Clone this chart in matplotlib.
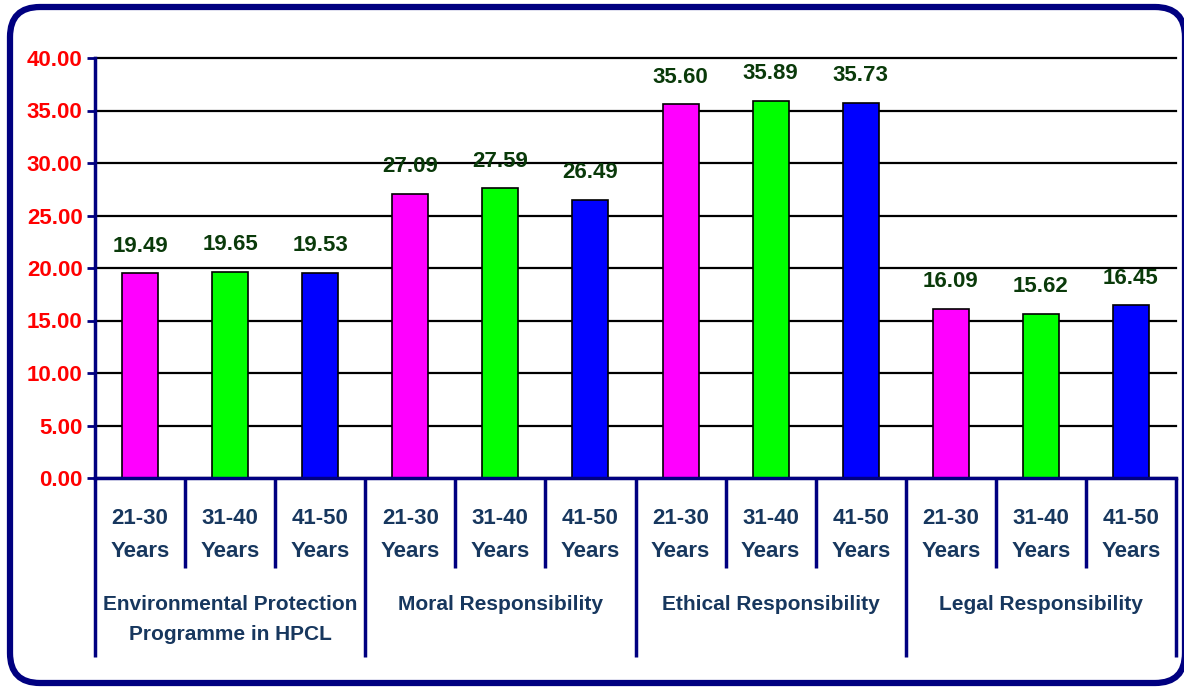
import matplotlib
matplotlib.use('Agg')
import matplotlib.pyplot as plt
import matplotlib.transforms as mtransforms
from matplotlib.patches import FancyBboxPatch
import numpy as np

plt.rcParams['font.family'] = ['Liberation Sans', 'DejaVu Sans']

GROUPS = ['Environmental Protection\nProgramme in HPCL', 'Moral Responsibility',
          'Ethical Responsibility', 'Legal Responsibility']
AGES = ['21-30\nYears', '31-40\nYears', '41-50\nYears']
VALUES = [
    [19.49, 19.65, 19.53],
    [27.09, 27.59, 26.49],
    [35.60, 35.89, 35.73],
    [16.09, 15.62, 16.45],
]
COLORS = ['#ff00ff', '#00ff00', '#0000ff']
Y_TICKS = [0, 5, 10, 15, 20, 25, 30, 35, 40]

NAVY = '#000080'
LABEL_BLUE = '#17375e'
VALUE_GREEN = '#0a3a0a'
FS = 16
DPI = 100

fig = plt.figure(figsize=(11.84, 6.88), dpi=DPI)
fig.patch.set_facecolor('white')

# rounded outer frame in pixel units (right side runs off the canvas)
frame = FancyBboxPatch((10, 5), 1175, 676,
                       boxstyle='round,pad=0,rounding_size=30',
                       transform=mtransforms.IdentityTransform(),
                       facecolor='none', edgecolor=NAVY, lw=4.5, zorder=-10)
fig.patches.append(frame)

ax = fig.add_axes([95 / 1184, 1 - 478 / 688, 1081 / 1184, 420 / 688])
ax.set_facecolor('none')

n_groups = len(GROUPS)
n_ages = len(AGES)
xs = np.arange(n_groups * n_ages)
heights = [v for grp in VALUES for v in grp]
colors = [COLORS[i % n_ages] for i in range(len(heights))]

ax.bar(xs, heights, width=0.4, color=colors, edgecolor='black', lw=1.2, zorder=3)
for x, h in zip(xs, heights):
    ax.annotate(f'{h:.2f}', (x, h), xytext=(0, 12), textcoords='offset points',
                ha='center', va='bottom', fontsize=FS, fontweight='bold',
                color=VALUE_GREEN, zorder=4)

ax.set_xlim(-0.5, len(xs) - 0.5)
ax.set_ylim(0, 40)
ax.set_yticks(Y_TICKS)
ax.set_yticklabels([f'{t:.2f}' for t in Y_TICKS], color='red',
                   fontsize=FS, fontweight='bold')
ax.tick_params(axis='y', direction='out', length=6, width=2, color=NAVY, pad=3)
ax.set_xticks([])
ax.yaxis.grid(True, color='black', lw=1.6, zorder=1)
for gl in ax.get_ygridlines():
    gl.set_clip_on(False)
ax.set_axisbelow(True)

for side in ['top', 'right']:
    ax.spines[side].set_visible(False)
for side in ['left', 'bottom']:
    ax.spines[side].set_color(NAVY)
    ax.spines[side].set_linewidth(2.5)
    ax.spines[side].set_zorder(5)

# category axis: age labels and group labels below the bars
trans = mtransforms.blended_transform_factory(ax.transData, ax.transAxes)
short_y = -90 / 420
long_y = -179 / 420
for i in range(len(xs) + 1):
    edge = i - 0.5
    y_end = long_y if i % n_ages == 0 else short_y
    ax.plot([edge, edge], [0, y_end], transform=trans, color=NAVY, lw=2.5,
            clip_on=False, solid_capstyle='butt')

for i, x in enumerate(xs):
    ax.text(x, -57 / 420, AGES[i % n_ages], transform=trans, ha='center',
            va='center', fontsize=FS, fontweight='bold', color=LABEL_BLUE,
            linespacing=1.7)

for g, name in enumerate(GROUPS):
    gx = g * n_ages + (n_ages - 1) / 2
    ax.text(gx, -117 / 420, name, transform=trans, ha='center', va='top',
            fontsize=15, fontweight='bold', color=LABEL_BLUE, linespacing=1.75)

fig.savefig('out.png', dpi=DPI)
